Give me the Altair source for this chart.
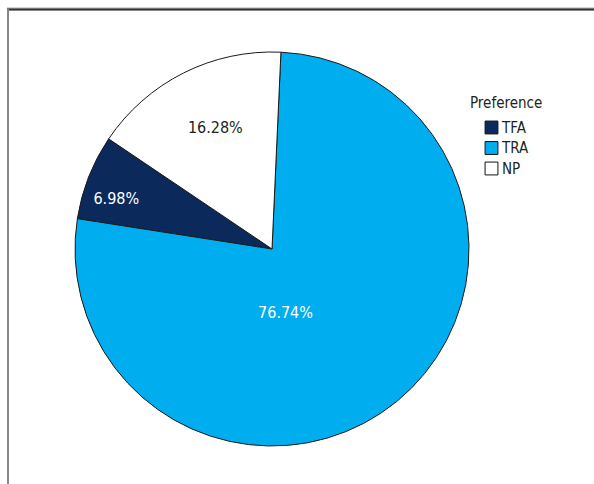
import math
import altair as alt
import pandas as pd

# Share of respondents by preferred option
categories = ["TFA", "TRA", "NP"]
percentages = [6.98, 76.74, 16.28]
slice_colors = ["#0b2a5b", "#00aeef", "#ffffff"]

FONT = "'Liberation Sans Narrow', 'DejaVu Sans Condensed', 'Roboto Condensed', 'Open Sans Condensed', Roboto, sans-serif"
total = sum(percentages)
start_angle = 2.6 * math.pi / 180  # first slice begins just right of 12 o'clock

df = pd.DataFrame({"Preference": categories, "pct": percentages})

theta_scale = alt.Scale(domain=[0, total], range=[start_angle, start_angle + 2 * math.pi])
cx, cy, r = 272, 249, 197

base = (
    alt.Chart(df)
    .transform_stack(
        stack="pct",
        groupby=[],
        as_=["s0", "s1"],
        sort=[alt.SortField("Preference", order="descending")],
    )
    .transform_calculate(
        mid="(datum.s0 + datum.s1) / 2",
        label="format(datum.pct, '.2f') + '%'",
    )
)

pie = base.mark_arc(radius=r, stroke="#1a1a1a", strokeWidth=1).encode(
    theta=alt.Theta("s0:Q", scale=theta_scale),
    theta2="s1:Q",
    color=alt.Color(
        "Preference:N",
        scale=alt.Scale(domain=categories, range=slice_colors),
        legend=alt.Legend(
            title="Preference",
            orient="none",
            legendX=470,
            legendY=96,
            titleFont=FONT,
            titleFontSize=15,
            titleFontWeight="normal",
            titleColor="#231f20",
            titlePadding=9,
            labelFont=FONT,
            labelFontSize=15,
            labelColor="#231f20",
            labelOffset=3,
            symbolType="square",
            symbolSize=165,
            symbolStrokeColor="#111111",
            symbolStrokeWidth=1,
            symbolOffset=14,
            rowPadding=3.5,
        ),
    ),
    x=alt.value(cx),
    y=alt.value(cy),
)


def slice_label(cat, radius, color, dx=0, dy=0):
    return (
        base.transform_filter(alt.datum.Preference == cat)
        .mark_text(radius=radius, font=FONT, fontSize=16, color=color, dx=dx, dy=dy)
        .encode(
            theta=alt.Theta("mid:Q", scale=theta_scale),
            text="label:N",
            x=alt.value(cx),
            y=alt.value(cy),
        )
    )


labels = (
    slice_label("NP", 135, "#231f20", dx=4)
    + slice_label("TFA", 163, "#ffffff", dx=-4, dy=10)
    + slice_label("TRA", 64, "#ffffff", dx=-27, dy=14)
)

# Panel border (top and left edges)
frame_top_light = alt.Chart(df).mark_rule(color="#cfcfcf", strokeWidth=1).encode(
    x=alt.value(7), x2=alt.value(594), y=alt.value(8)
)
frame_top = alt.Chart(df).mark_rule(color="#333333", strokeWidth=1.5).encode(
    x=alt.value(7), x2=alt.value(594), y=alt.value(9.5)
)
frame_left = alt.Chart(df).mark_rule(color="#888888", strokeWidth=2).encode(
    x=alt.value(8), y=alt.value(9), y2=alt.value(484)
)

chart = (
    alt.layer(frame_top_light, frame_top, frame_left, pie, labels)
    .properties(width=594, height=484, autosize=alt.AutoSizeParams(type="none"), padding=0, background="white")
    .configure_view(stroke=None)
)

chart.save("out.html", embed_options={"renderer": "svg", "actions": False})
